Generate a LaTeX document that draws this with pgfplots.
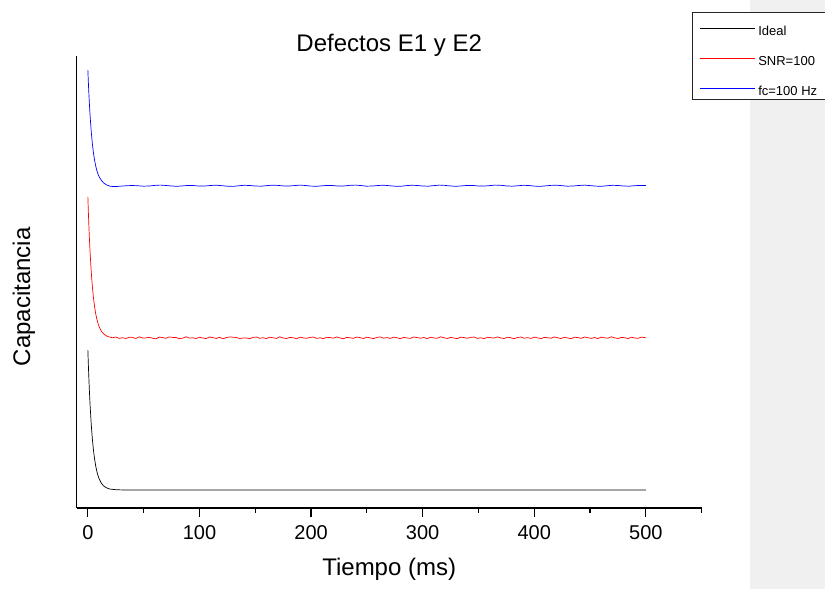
\documentclass[border=0pt]{standalone}
\usepackage{pgfplots}
\pgfplotsset{compat=1.18}
\usepackage{fontspec}
\setmainfont{Liberation Sans}
\definecolor{panelgray}{RGB}{240,240,240}
% legend sample: a long line sitting at the height of the capital letters
\pgfplotsset{
  longline/.style={legend image code/.code={%
    \draw[draw=#1, line width=0.8pt] (0pt,4pt) -- (55pt,4pt);
    \path (0pt,-2pt) (55pt,18pt);}},
}

\begin{document}
\begin{tikzpicture}[x=1pt,y=1pt]
\useasboundingbox (0,0) rectangle (825,589);
\fill[panelgray] (750,0) rectangle (825,589);
\begin{axis}[
  at={(76.7pt,81pt)}, anchor=south west,
  scale only axis, width=625pt, height=452pt,
  xmin=-10, xmax=550, ymin=0, ymax=452,
  axis x line*=bottom, axis y line*=left,
  axis line style={line width=1.5pt},
  xtick={0,100,...,500},
  minor xtick={50,150,...,550},
  ytick=\empty,
  tick align=outside,
  major tick length=9pt, minor tick length=5pt,
  every tick/.style={black, line width=1.2pt},
  /pgf/number format/assume math mode=true,
  ticklabel style={font=\fontsize{20}{24}\selectfont},
  xticklabel style={yshift=-5pt},
  title={Defectos E1 y E2},
  title style={font=\fontsize{24}{28}\selectfont, at={(axis description cs:0.5,0.9956)}, anchor=base},
  xlabel={Tiempo (ms)},
  xlabel style={font=\fontsize{24}{28}\selectfont, at={(axis description cs:0.5,-0.1504)}, anchor=base},
  ylabel={Capacitancia},
  ylabel style={font=\fontsize{24}{28}\selectfont, at={(axis description cs:-0.0843,0.467)}, anchor=center},
  clip=false,
  legend cell align=left,
  legend style={at={(axis description cs:0.9845,1.097)}, anchor=north west,
    draw=black!85, line width=0.9pt, fill=white,
    font=\fontsize{13}{15}\selectfont,
    inner xsep=7pt, inner ysep=1pt, row sep=5.3pt, column sep=2pt,
    nodes={inner sep=1pt}},
]
% noiseless response
\addplot[draw=black, line width=0.7pt, longline=black] coordinates {
(0,158) (0.5,141.6) (1,127.0) (1.5,114.2) (2,102.9) (3,84.1) (4,69.5) (5,58.1)
(6,49.2) (7,42.3) (8,36.9) (9,32.8) (10,29.5) (12,25.0) (14,22.2) (16,20.6)
(18,19.6) (20,18.9) (25,18.3) (30,18.1) (40,18.0) (500,18.0)
};
\addlegendentry{Ideal}
% response with SNR = 100
\addplot[draw=red, line width=0.7pt, longline=red] coordinates {
(0,311) (0.5,294.4) (1,279.8) (1.5,266.9) (2,255.5) (3,236.6) (4,221.9) (5,210.4)
(6,201.5) (7,194.5) (8,189.1) (9,184.9) (10,181.6) (12,177.0) (14,174.3) (16,172.6)
(18,171.3) (20,170.9)
(22,170.2) (25,171.0) (28,169.6) (31,170.3) (34,169.5) (37,170.8) (40,170.6) (43,169.5)
(46,171.2) (49,170.0) (52,170.1) (55,170.7) (58,169.8) (61,169.2) (64,170.9) (67,170.4)
(70,169.7) (73,171.1) (76,170.6) (79,170.5) (82,169.3) (85,169.9) (88,171.2) (91,169.9)
(94,170.2) (97,169.5) (100,170.8) (103,170.0) (106,169.4) (109,171.0) (112,170.3) (115,169.6)
(118,170.7) (121,169.2) (124,170.4) (127,171.1) (130,170.8) (133,170.5) (136,169.5) (139,170.0)
(142,170.1) (145,169.3) (148,170.6) (151,171.0) (154,169.7) (157,170.3) (160,169.4) (163,170.8)
(166,170.2) (169,169.6) (172,171.2) (175,170.0) (178,169.5) (181,170.6) (184,170.3) (187,169.2)
(190,170.9) (193,170.1) (196,169.7) (199,170.5) (202,171.0) (205,169.6) (208,170.2) (211,169.4)
(214,170.7) (217,170.4) (220,169.8) (223,171.1) (226,170.0) (229,169.3) (232,170.6) (235,170.2)
(238,169.7) (241,171.0) (244,170.3) (247,169.5) (250,170.8) (253,170.1) (256,169.4) (259,170.6)
(262,171.1) (265,169.8) (268,170.4) (271,169.6) (274,170.9) (277,170.2) (280,169.3) (283,170.7)
(286,170.0) (289,169.6) (292,171.0) (295,170.4) (298,169.8) (301,170.5) (304,169.4) (307,170.8)
(310,170.1) (313,169.7) (316,171.2) (319,170.3) (322,169.5) (325,170.6) (328,170.0) (331,169.3)
(334,170.9) (337,170.4) (340,169.8) (343,170.6) (346,171.0) (349,169.6) (352,170.2) (355,169.4)
(358,170.7) (361,170.3) (364,169.9) (367,171.1) (370,170.0) (373,169.5) (376,170.8) (379,170.2)
(382,169.3) (385,170.5) (388,171.0) (391,169.7) (394,170.4) (397,169.6) (400,170.9) (403,170.1)
(406,169.4) (409,170.6) (412,170.3) (415,169.8) (418,171.1) (421,170.2) (424,169.5) (427,170.7)
(430,170.0) (433,169.3) (436,170.8) (439,170.4) (442,169.7) (445,171.0) (448,170.3) (451,169.6)
(454,170.5) (457,169.4) (460,170.9) (463,170.2) (466,169.8) (469,171.2) (472,170.1) (475,169.5)
(478,170.6) (481,170.3) (484,169.4) (487,170.8) (490,170.0) (493,169.7) (496,170.9) (499,170.4)
(500,170.2)
};
\addlegendentry{SNR=100}
% response with cut-off frequency 100 Hz
\addplot[draw=blue, line width=0.7pt, longline=blue] coordinates {
(0,438) (0.5,424.4) (1,412.3) (1.5,401.7) (2,392.4) (3,376.8) (4,364.7) (5,355.2)
(6,347.9) (7,342.2) (8,337.7) (9,334.2) (10,331.5) (12,327.8) (14,325.2) (16,323.6)
(18,322.5) (20,321.8) (23,321.4) (26,321.5) (30,321.9) (35,322.3)
(40,322.5) (45,322.2) (50,321.8) (55,322.0) (60,322.6) (65,322.9) (70,322.5) (75,322.0)
(80,321.7) (85,322.1) (90,322.6) (95,322.4) (100,321.9) (105,322.0) (110,322.5) (115,322.8)
(120,322.3) (125,321.8) (130,321.6) (135,322.2) (140,322.7) (145,322.5) (150,322.0) (155,321.8)
(160,322.3) (165,322.8) (170,322.6) (175,322.1) (180,321.9) (185,322.4) (190,322.9) (195,322.5)
(200,321.9) (205,321.7) (210,322.2) (215,322.6) (220,322.4) (225,321.9) (230,322.1) (235,322.7)
(240,322.9) (245,322.4) (250,321.8) (255,322.0) (260,322.5) (265,322.8) (270,322.3) (275,321.8)
(280,321.7) (285,322.3) (290,322.8) (295,322.5) (300,322.0) (305,321.8) (310,322.4) (315,322.9)
(320,322.6) (325,322.0) (330,321.7) (335,322.1) (340,322.6) (345,322.5) (350,322.0) (355,321.9)
(360,322.4) (365,322.9) (370,322.7) (375,322.1) (380,321.8) (385,322.2) (390,322.7) (395,322.5)
(400,321.9) (405,321.6) (410,322.1) (415,322.6) (420,322.8) (425,322.3) (430,321.8) (435,322.0)
(440,322.5) (445,322.9) (450,322.4) (455,321.9) (460,321.7) (465,322.2) (470,322.7) (475,322.5)
(480,322.0) (485,321.8) (490,322.3) (495,322.6) (500,322.4)
};
\addlegendentry{fc=100 Hz}
\end{axis}
\end{tikzpicture}
\end{document}
